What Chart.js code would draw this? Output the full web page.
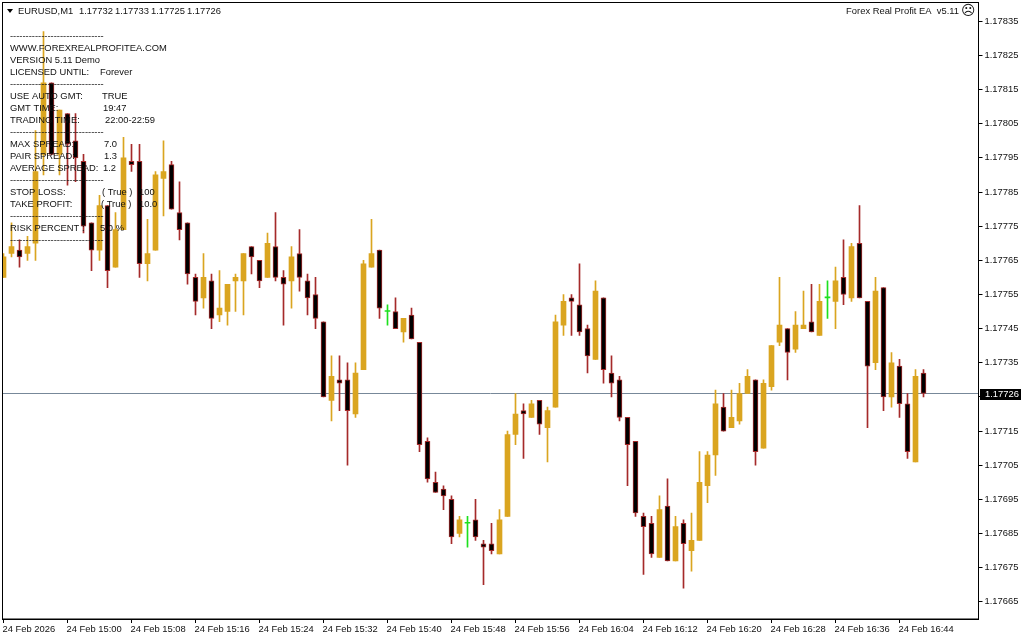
<!DOCTYPE html>
<html>
<head>
<meta charset="utf-8">
<title>EURUSD,M1</title>
<style>
  html, body { margin: 0; padding: 0; background: #fff; }
  canvas { display: block; }
</style>
<script src="https://cdn.jsdelivr.net/npm/chart.js@4/dist/chart.umd.min.js"></script>
</head>
<body>
<canvas id="mt4Chart" width="1024" height="640"></canvas>
<script>
// one minute candles, oldest first
const opens = [
  1.17760,1.17767,1.17768,1.17767,1.17770,1.17796,1.17817,1.17796,1.17808,1.17800,
  1.17794,1.17776,1.17768,1.17781,1.17763,1.17774,1.17794,1.17794,1.17764,1.17768,
  1.17789,1.17793,1.17779,1.17776,1.17760,1.17754,1.17759,1.17749,1.17750,1.17759,
  1.17759,1.17769,1.17765,1.17760,1.17769,1.17760,1.17759,1.17767,1.17759,1.17755,
  1.17747,1.17724,1.17730,1.17730,1.17720,1.17733,1.17763,1.17768,1.17750,1.17750,
  1.17744,1.17749,1.17741,1.17712,1.17700,1.17698,1.17695,1.17685,1.17688,1.17689,
  1.17682,1.17682,1.17679,1.17690,1.17714,1.17721,1.17719,1.17724,1.17716,1.17722,
  1.17746,1.17754,1.17752,1.17745,1.17736,1.17754,1.17732,1.17730,1.17719,1.17712,
  1.17690,1.17688,1.17678,1.17693,1.17677,1.17688,1.17680,1.17683,1.17699,1.17708,
  1.17722,1.17716,1.17718,1.17726,1.17730,1.17710,1.17728,1.17741,1.17745,1.17739,
  1.17745,1.17747,1.17743,1.17754,1.17753,1.17760,1.17754,1.17770,1.17753,1.17735,
  1.17757,1.17725,1.17734,1.17723,1.17706,1.17732
];
const closes = [
  1.17766,1.17769,1.17766,1.17769,1.17791,1.17817,1.17796,1.17809,1.17799,1.17795,
  1.17775,1.17768,1.17781,1.17762,1.17774,1.17795,1.17793,1.17764,1.17767,1.17790,
  1.17791,1.17780,1.17774,1.17761,1.17753,1.17760,1.17748,1.17751,1.17758,1.17760,
  1.17767,1.17766,1.17759,1.17770,1.17760,1.17758,1.17766,1.17760,1.17754,1.17748,
  1.17725,1.17731,1.17729,1.17721,1.17732,1.17764,1.17767,1.17751,1.17750,1.17745,
  1.17748,1.17742,1.17711,1.17701,1.17697,1.17696,1.17684,1.17689,1.17688,1.17684,
  1.17681,1.17680,1.17689,1.17714,1.17720,1.17720,1.17723,1.17717,1.17721,1.17747,
  1.17753,1.17753,1.17744,1.17737,1.17756,1.17733,1.17729,1.17719,1.17711,1.17691,
  1.17687,1.17679,1.17692,1.17677,1.17687,1.17682,1.17683,1.17700,1.17708,1.17723,
  1.17715,1.17719,1.17726,1.17731,1.17709,1.17729,1.17740,1.17746,1.17738,1.17746,
  1.17746,1.17744,1.17753,1.17754,1.17759,1.17755,1.17769,1.17754,1.17734,1.17756,
  1.17725,1.17735,1.17723,1.17709,1.17731,1.17726
];
const highs = [
  1.17767,1.17776,1.17771,1.17772,1.17803,1.17832,1.17817,1.17809,1.17808,1.17808,
  1.17796,1.17776,1.17784,1.17781,1.17779,1.17801,1.17799,1.17799,1.17777,1.17791,
  1.17800,1.17794,1.17788,1.17776,1.17761,1.17767,1.17761,1.17762,1.17758,1.17761,
  1.17767,1.17769,1.17765,1.17773,1.17779,1.17762,1.17769,1.17774,1.17761,1.17760,
  1.17747,1.17737,1.17737,1.17735,1.17735,1.17765,1.17777,1.17768,1.17752,1.17754,
  1.17748,1.17751,1.17741,1.17713,1.17703,1.17699,1.17696,1.17690,1.17690,1.17695,
  1.17683,1.17688,1.17692,1.17715,1.17726,1.17723,1.17724,1.17724,1.17722,1.17749,
  1.17755,1.17755,1.17764,1.17746,1.17759,1.17754,1.17737,1.17731,1.17719,1.17712,
  1.17691,1.17690,1.17696,1.17701,1.17690,1.17689,1.17691,1.17709,1.17709,1.17727,
  1.17726,1.17727,1.17729,1.17733,1.17730,1.17730,1.17740,1.17760,1.17745,1.17750,
  1.17756,1.17758,1.17758,1.17759,1.17763,1.17771,1.17770,1.17781,1.17753,1.17760,
  1.17757,1.17738,1.17736,1.17726,1.17733,1.17733
];
const lows = [
  1.17760,1.17766,1.17763,1.17765,1.17765,1.17790,1.17796,1.17790,1.17787,1.17788,
  1.17773,1.17762,1.17765,1.17757,1.17763,1.17774,1.17791,1.17760,1.17759,1.17768,
  1.17778,1.17780,1.17771,1.17758,1.17749,1.17751,1.17745,1.17747,1.17746,1.17750,
  1.17749,1.17761,1.17757,1.17760,1.17759,1.17746,1.17751,1.17756,1.17749,1.17745,
  1.17725,1.17718,1.17721,1.17705,1.17719,1.17733,1.17763,1.17748,1.17746,1.17745,
  1.17741,1.17742,1.17709,1.17700,1.17697,1.17692,1.17682,1.17684,1.17681,1.17683,
  1.17670,1.17679,1.17679,1.17690,1.17711,1.17707,1.17719,1.17714,1.17706,1.17722,
  1.17743,1.17743,1.17743,1.17732,1.17736,1.17729,1.17725,1.17718,1.17699,1.17690,
  1.17673,1.17678,1.17678,1.17677,1.17677,1.17669,1.17674,1.17683,1.17694,1.17702,
  1.17715,1.17716,1.17717,1.17726,1.17705,1.17710,1.17727,1.17740,1.17730,1.17738,
  1.17745,1.17744,1.17743,1.17748,1.17745,1.17752,1.17753,1.17754,1.17716,1.17733,
  1.17721,1.17722,1.17719,1.17707,1.17706,1.17725
];
const bidPrice = 1.17726;

const yTicks = [1.17835,1.17825,1.17815,1.17805,1.17795,1.17785,1.17775,1.17765,1.17755,
  1.17745,1.17735,1.17725,1.17715,1.17705,1.17695,1.17685,1.17675,1.17665];
const xTickIndex = [0,8,16,24,32,40,48,56,64,72,80,88,96,104,112];
const xTickLabels = ["24 Feb 2026","24 Feb 15:00","24 Feb 15:08","24 Feb 15:16","24 Feb 15:24",
  "24 Feb 15:32","24 Feb 15:40","24 Feb 15:48","24 Feb 15:56","24 Feb 16:04","24 Feb 16:12",
  "24 Feb 16:20","24 Feb 16:28","24 Feb 16:36","24 Feb 16:44"];

// visible window of the chart, same zoom as the terminal (8px per bar)
const xMin = -0.125, xMax = 121.875;
const yMin = 1.17659968, yMax = 1.17840495;

const DASHES = "------------------------------";
const headerItems = [
  ["EURUSD,M1", 18, 11], ["1.17732", 79, 11], ["1.17733", 115, 11], ["1.17725", 151, 11], ["1.17726", 187, 11]
];
const panelItems = [
  [DASHES, 10, 36],
  ["WWW.FOREXREALPROFITEA.COM", 10, 48],
  ["VERSION 5.11 Demo", 10, 60],
  ["LICENSED UNTIL:", 10, 72], ["Forever", 100, 72],
  [DASHES, 10, 84],
  ["USE AUTO GMT:", 10, 96], ["TRUE", 102, 96],
  ["GMT TIME:", 10, 108], ["19:47", 103, 108],
  ["TRADING TIME:", 10, 120], ["22:00-22:59", 105, 120],
  [DASHES, 10, 132],
  ["MAX SPREAD:", 10, 144], ["7.0", 104, 144],
  ["PAIR SPREAD:", 10, 156], ["1.3", 104, 156],
  ["AVERAGE SPREAD:", 10, 168], ["1.2", 103, 168],
  [DASHES, 10, 180],
  ["STOP LOSS:", 10, 192], ["( True )", 102, 192], ["100", 139, 192],
  ["TAKE PROFIT:", 10, 204], ["( True )", 101, 204], ["10.0", 139, 204],
  [DASHES, 10, 216],
  ["RISK PERCENT :", 10, 228], ["5.0 %", 100, 228],
  [DASHES, 10, 240]
];

const GOLD = "#daa520", BROWN = "#a52a2a", DOJI = "#1ee01e";
const FONT_FAMILY = "Liberation Sans";
const FONT_SIZE = 9.4;
const FONT = FONT_SIZE + "px '" + FONT_FAMILY + "'";

const wickColors = opens.map((o, i) => o === closes[i] ? DOJI : (o < closes[i] ? GOLD : BROWN));
const bodyColors = opens.map((o, i) => o === closes[i] ? DOJI : (o < closes[i] ? GOLD : "#000000"));
const bodyBorders = opens.map((o, i) => o > closes[i] ? 1 : 0);

function pinBox(width, height) {
  return function (scale) {
    if (width) scale.width = width;
    if (height) scale.height = height;
    scale.paddingTop = scale.paddingBottom = scale.paddingLeft = scale.paddingRight = 0;
  };
}

const terminalOverlay = {
  id: "terminalOverlay",
  afterDraw(chart) {
    const c = chart.ctx, area = chart.chartArea;
    c.save();
    c.strokeStyle = "#000";
    c.lineWidth = 1;
    c.strokeRect(area.left, area.top, area.right - area.left, area.bottom - area.top);

    c.font = FONT;
    c.textBaseline = "middle";
    c.textAlign = "left";
    c.fillStyle = "#111";
    headerItems.concat(panelItems).forEach(t => c.fillText(t[0], t[1], t[2]));

    // drop-down arrow of the chart header
    c.fillStyle = "#000";
    c.beginPath();
    c.moveTo(7, 9); c.lineTo(13, 9); c.lineTo(10, 13); c.closePath();
    c.fill();

    c.fillStyle = "#111";
    c.textAlign = "right";
    c.fillText("Forex Real Profit EA  v5.11", 959, 11);
    c.textAlign = "left";
    c.font = "14px 'DejaVu Sans'";
    c.fillText("\u2639", 961, 11);

    // current bid tag on the price axis
    const y = Math.round(chart.scales.y.getPixelForValue(bidPrice));
    c.fillStyle = "#000";
    c.fillRect(980, y - 5, 41, 11);
    c.fillStyle = "#fff";
    c.font = FONT;
    c.fillText(bidPrice.toFixed(5), 985, y);
    c.restore();
  }
};

new Chart(document.getElementById("mt4Chart"), {
  type: "bar",
  data: {
    datasets: [
      {
        type: "line",
        data: [{ x: xMin, y: bidPrice }, { x: xMax, y: bidPrice }],
        borderColor: "#778899",
        borderWidth: 1,
        pointRadius: 0,
        order: 3
      },
      {
        data: lows.map((l, i) => ({ x: i, y: [l, highs[i]] })),
        backgroundColor: wickColors,
        barThickness: 1,
        grouped: false,
        order: 2
      },
      {
        data: opens.map((o, i) => ({ x: i, y: [o, closes[i]] })),
        backgroundColor: bodyColors,
        borderColor: wickColors,
        borderWidth: bodyBorders,
        borderSkipped: false,
        barThickness: 5,
        minBarLength: 1,
        grouped: false,
        order: 1
      }
    ]
  },
  options: {
    responsive: false,
    animation: false,
    devicePixelRatio: 1,
    layout: { padding: { left: 2.5, top: 2.5, right: 0, bottom: 0 } },
    plugins: { legend: { display: false }, tooltip: { enabled: false } },
    scales: {
      x: {
        type: "linear",
        offset: false,
        min: xMin,
        max: xMax,
        afterBuildTicks: s => { s.ticks = xTickIndex.map(v => ({ value: v })); },
        afterFit: pinBox(0, 21),
        border: { color: "#000" },
        grid: { color: "#000", drawOnChartArea: false, tickLength: 4, offset: false },
        ticks: {
          autoSkip: false,
          maxRotation: 0,
          align: "start",
          labelOffset: -1,
          padding: 1,
          color: "#111",
          font: { family: FONT_FAMILY, size: FONT_SIZE },
          callback: v => xTickLabels[xTickIndex.indexOf(v)]
        }
      },
      y: {
        position: "right",
        min: yMin,
        max: yMax,
        afterBuildTicks: s => { s.ticks = yTicks.map(v => ({ value: v })); },
        afterFit: pinBox(45.5, 0),
        border: { color: "#000" },
        grid: { color: "#000", drawOnChartArea: false, tickLength: 4 },
        ticks: {
          autoSkip: false,
          padding: 2,
          color: "#111",
          font: { family: FONT_FAMILY, size: FONT_SIZE },
          callback: v => v.toFixed(5)
        }
      }
    }
  },
  plugins: [terminalOverlay]
});
</script>
</body>
</html>
